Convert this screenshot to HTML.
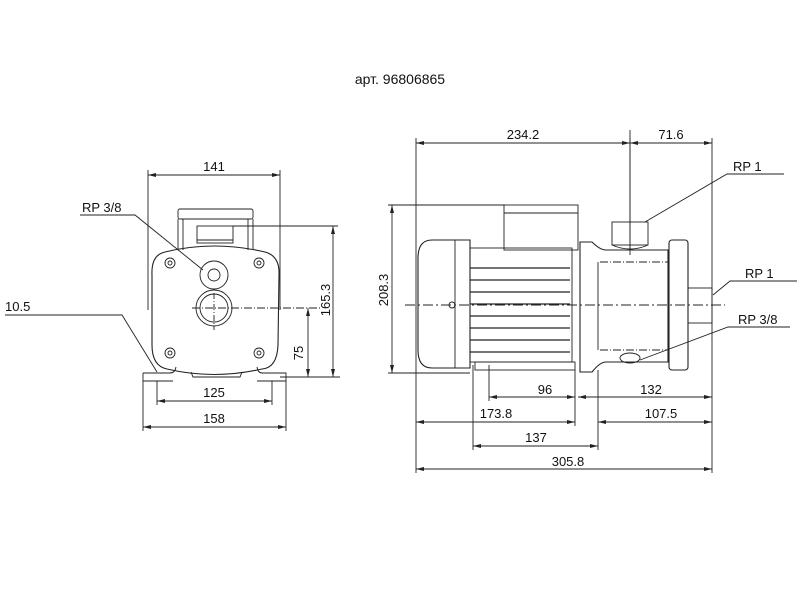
<!DOCTYPE html>
<html><head><meta charset="utf-8"><style>
html,body{margin:0;padding:0;background:#fff;width:800px;height:600px;overflow:hidden}
svg text{font-family:"Liberation Sans",Arial,sans-serif;font-size:13px;fill:#111}
</style></head><body>
<svg width="800" height="600" viewBox="0 0 800 600" xmlns="http://www.w3.org/2000/svg">
<defs>
<marker id="a" markerWidth="8" markerHeight="6" refX="8" refY="3" orient="auto-start-reverse" markerUnits="userSpaceOnUse"><path d="M0,1 L8,3 L0,5z" fill="#222"/></marker>
</defs>
<text x="400" y="84" text-anchor="middle" style="font-size:14px">арт. 96806865</text>

<g stroke="#222" stroke-width="0.9" fill="none">
<!-- LEFT VIEW -->
<line x1="148" y1="170" x2="148" y2="310"/>
<line x1="280" y1="170" x2="280" y2="310"/>
<line x1="148" y1="175" x2="280" y2="175" marker-start="url(#a)" marker-end="url(#a)"/>
<rect x="178" y="209" width="75" height="10" rx="2"/>
<line x1="178" y1="219" x2="178" y2="250"/><line x1="253" y1="219" x2="253" y2="250"/>
<line x1="183" y1="219" x2="183" y2="250"/><line x1="248" y1="219" x2="248" y2="250"/>
<rect x="197" y="226" width="36" height="17"/>
<line x1="197" y1="240" x2="233" y2="240"/>
<path d="M165,252 Q214,240 265,252 Q280,256 279,275 L278,345 Q277,368 262,369 Q214,380 167,369 Q152,366 152,345 L152,275 Q151,255 165,252z" stroke-width="1.1"/>
<circle cx="170" cy="263" r="5"/><circle cx="170" cy="263" r="2"/>
<circle cx="259" cy="263" r="5"/><circle cx="259" cy="263" r="2"/>
<circle cx="170" cy="353" r="5"/><circle cx="170" cy="353" r="2"/>
<circle cx="259" cy="353" r="5"/><circle cx="259" cy="353" r="2"/>
<circle cx="214" cy="275" r="14"/><circle cx="214" cy="275" r="6"/>
<circle cx="214" cy="308" r="18"/><circle cx="214" cy="308" r="14"/>
<line x1="214" y1="293" x2="214" y2="330" stroke-dasharray="6 2 1 2"/>
<line x1="192" y1="308" x2="320" y2="308" stroke-dasharray="8 2 1 2"/>
<path d="M143,373 L170,373 Q175,373 176,367 M143,373 L143,381 L173,381 M257,367 Q258,373 262,373 L286,373 L286,381 L257,381"/>
<path d="M191,372 L193,377 L240,377 L242,372"/>
<line x1="157" y1="381" x2="157" y2="405"/><line x1="272" y1="381" x2="272" y2="405"/>
<line x1="143" y1="381" x2="143" y2="431"/><line x1="286" y1="381" x2="286" y2="431"/>
<line x1="157" y1="401" x2="272" y2="401" marker-start="url(#a)" marker-end="url(#a)"/>
<line x1="143" y1="427" x2="286" y2="427" marker-start="url(#a)" marker-end="url(#a)"/>
<line x1="233" y1="226" x2="338" y2="226"/>
<line x1="280" y1="377" x2="340" y2="377"/>
<line x1="333" y1="226" x2="333" y2="377" marker-start="url(#a)" marker-end="url(#a)"/>
<line x1="308" y1="308" x2="308" y2="377" marker-start="url(#a)" marker-end="url(#a)"/>
<polyline points="80,215 135,215 203,270"/>
<polyline points="5,315 122,315 157,372"/>

<!-- RIGHT VIEW -->
<line x1="416" y1="138" x2="416" y2="473"/>
<line x1="630" y1="138" x2="630" y2="250"/>
<line x1="712" y1="138" x2="712" y2="473"/>
<line x1="416" y1="143" x2="630" y2="143" marker-start="url(#a)" marker-end="url(#a)"/>
<line x1="630" y1="143" x2="712" y2="143" marker-start="url(#a)" marker-end="url(#a)"/>
<line x1="388" y1="205" x2="505" y2="205"/>
<line x1="388" y1="373" x2="470" y2="373"/>
<line x1="392" y1="205" x2="392" y2="373" marker-start="url(#a)" marker-end="url(#a)"/>
<path d="M432,240 L470,240 L470,368 L432,368 Q418,368 418,350 L418,258 Q418,240 432,240z" stroke-width="1.1"/>
<line x1="455" y1="240" x2="455" y2="368"/>
<rect x="470" y="248" width="102" height="114"/>
<g stroke-width="1.3">
<line x1="470" y1="268" x2="570" y2="268"/><line x1="470" y1="280" x2="570" y2="280"/>
<line x1="470" y1="292" x2="570" y2="292"/><line x1="470" y1="304" x2="570" y2="304"/>
<line x1="470" y1="316" x2="570" y2="316"/><line x1="470" y1="328" x2="570" y2="328"/>
<line x1="470" y1="340" x2="570" y2="340"/><line x1="470" y1="352" x2="570" y2="352"/>
</g>
<rect x="504" y="205" width="74" height="45"/>
<line x1="504" y1="213" x2="578" y2="213"/>
<rect x="475" y="362" width="100" height="8"/>
<circle cx="452" cy="305" r="3"/>
<path d="M580,242 L592,242 Q600,250 606,250 L668,250 L668,362 L606,362 Q600,362 592,372 L580,372z" stroke-width="1.1"/>
<path d="M598,262 L598,350"/>
<rect x="612" y="222" width="36" height="23"/>
<path d="M612,245 Q630,253 648,245"/>
<line x1="600" y1="262" x2="668" y2="262" stroke-dasharray="8 2 1 2"/>
<line x1="600" y1="350" x2="668" y2="350" stroke-dasharray="8 2 1 2"/>
<rect x="669" y="240" width="19" height="130" rx="3" stroke-width="1.1"/>
<rect x="688" y="288" width="24" height="35"/>
<ellipse cx="630" cy="358" rx="10" ry="5"/>
<line x1="630" y1="130" x2="630" y2="255"/>
<line x1="405" y1="305" x2="725" y2="305" stroke-dasharray="10 3 2 3"/>
<polyline points="784,174 727,174 645,222"/>
<polyline points="797,281 730,281 713,295"/>
<polyline points="790,327 728,327 640,360"/>
<line x1="473" y1="365" x2="473" y2="450"/>
<line x1="489" y1="365" x2="489" y2="401"/>
<line x1="575" y1="370" x2="575" y2="426"/>
<line x1="598" y1="370" x2="598" y2="450"/>
<line x1="489" y1="397" x2="575" y2="397" marker-start="url(#a)" marker-end="url(#a)"/>
<line x1="578" y1="397" x2="712" y2="397" marker-start="url(#a)" marker-end="url(#a)"/>
<line x1="416" y1="422" x2="575" y2="422" marker-start="url(#a)" marker-end="url(#a)"/>
<line x1="598" y1="422" x2="712" y2="422" marker-start="url(#a)" marker-end="url(#a)"/>
<line x1="473" y1="446" x2="598" y2="446" marker-start="url(#a)" marker-end="url(#a)"/>
<line x1="416" y1="469" x2="712" y2="469" marker-start="url(#a)" marker-end="url(#a)"/>
</g>

<text x="214" y="171" text-anchor="middle">141</text>
<text x="82" y="212">RP 3/8</text>
<text x="5" y="311">10.5</text>
<text x="214" y="397" text-anchor="middle">125</text>
<text x="214" y="423" text-anchor="middle">158</text>
<text transform="translate(330,300) rotate(-90)" text-anchor="middle">165.3</text>
<text transform="translate(303,353) rotate(-90)" text-anchor="middle">75</text>
<text x="523" y="139" text-anchor="middle">234.2</text>
<text x="671" y="139" text-anchor="middle">71.6</text>
<text transform="translate(388,290) rotate(-90)" text-anchor="middle">208.3</text>
<text x="733" y="171">RP 1</text>
<text x="745" y="278">RP 1</text>
<text x="738" y="324">RP 3/8</text>
<text x="545" y="394" text-anchor="middle">96</text>
<text x="651" y="394" text-anchor="middle">132</text>
<text x="496" y="418" text-anchor="middle">173.8</text>
<text x="661" y="418" text-anchor="middle">107.5</text>
<text x="536" y="442" text-anchor="middle">137</text>
<text x="568" y="466" text-anchor="middle">305.8</text>
</svg>
</body></html>
